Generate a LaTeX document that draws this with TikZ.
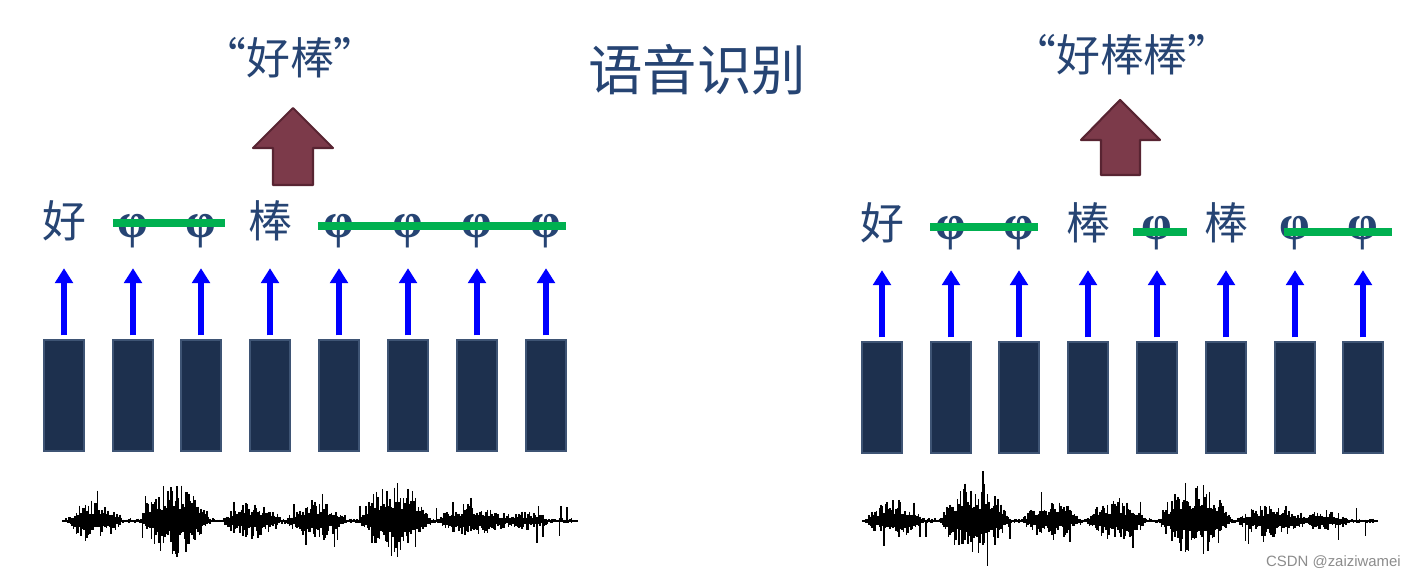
\documentclass[tikz,border=0pt]{standalone}
\usepackage{fontspec}
\setsansfont{Liberation Sans}
\newfontfamily\cjk{Noto Sans CJK SC}
\newfontfamily\blankfont{Liberation Serif}
\usetikzlibrary{positioning,arrows.meta,calc}
\definecolor{textnavy}{RGB}{38,68,115}
\definecolor{barnavy}{RGB}{29,48,78}
\definecolor{barline}{RGB}{62,84,116}
\definecolor{blankgreen}{RGB}{0,176,80}
\definecolor{outmaroon}{RGB}{124,58,74}
\definecolor{outmaroonline}{RGB}{88,36,50}
\definecolor{frameblue}{RGB}{0,0,255}
\newcommand{\blk}{{\blankfont\bfseries\fontsize{28}{28}\selectfont φ}}
\tikzset{
  framebar/.style={draw=barline,fill=barnavy,line width=0.7pt,minimum width=0.8cm,minimum height=2.22cm,inner sep=0pt},
  tokenlab/.style={anchor=base,inner sep=0pt,text depth=0pt,font=\fontsize{25}{25}\selectfont\cjk,text=textnavy},
  upflow/.style={-{Triangle[width=10pt,length=8.5pt]},line width=2.9pt,draw=frameblue,shorten <=2.3pt,shorten >=17pt},
  blankline/.style={line width=5pt,draw=blankgreen},
  outarrow/.style={draw=outmaroonline,fill=outmaroon,line width=1.2pt,line join=round},
  outtext/.style={font=\fontsize{25}{25}\selectfont\cjk,text=textnavy},
  wavebase/.style={line width=1.3pt,draw=black},
  waveline/.style={line width=0.9pt,draw=black},
}
% one speech waveform, #1 = left end
\newcommand{\speechwave}[1]{%
  \draw[wavebase] (#1,521) -- ++(516,0);
  \foreach \t in {4,5.5,...,512}{
    \pgfmathsetmacro{\env}{3+20*max(0,1-((\t-33)/28)^2)+38*max(0,1-((\t-113)/36)^2)+18*max(0,1-((\t-190)/30)^2)+20*max(0,1-((\t-255)/30)^2)+38*max(0,1-((\t-333)/36)^2)+15*max(0,1-((\t-410)/35)^2)+8*max(0,1-((\t-462)/26)^2)}
    \pgfmathsetmacro{\up}{\env*(0.3+0.7*rnd^1.5)+(rnd>0.97)*12}
    \pgfmathsetmacro{\dn}{\env*(0.25+0.65*rnd^1.5)+(rnd>0.97)*14}
    \draw[waveline] (#1+\t,521-\up) -- (#1+\t,521+\dn);
  }}

\begin{document}
\begin{tikzpicture}[x=0.02cm,y=-0.02cm]
  \useasboundingbox (0,0) rectangle (1420,577);
  \pgfmathsetseed{7}
  % title
  \node[outtext,font=\fontsize{31}{31}\selectfont\cjk] (title) at (697,70) {语音识别};
  % left: frames, blanks collapsed to one output
  \foreach \i/\x/\lab in {1/64/好,2/133/\blk,3/201/\blk,4/270/棒,5/339/\blk,6/408/\blk,7/477/\blk,8/546/\blk}{
    \node[framebar] (lbar\i) at (\x,395.5) {};
    \node[tokenlab] (llab\i) at (\x,238) {\lab};
    \draw[upflow] (lbar\i.north) -- (lbar\i.north |- llab\i.south);
  }
  \draw[blankline] ($(llab2.base)+(-20,-15)$) -- ($(llab3.base)+(24,-15)$);
  \draw[blankline] ($(llab5.base)+(-21,-12)$) -- ($(llab8.base)+(20,-12)$);
  \draw[outarrow] (293,108) -- (333,148) -- (313,148) -- (313,185) -- (273,185) -- (273,148) -- (253,148) -- cycle;
  \node[outtext] (lout) at (290,58) {“好棒”};
  \speechwave{62}
  % right: a blank between the two repeats
  \foreach \i/\x/\lab in {1/882/好,2/951/\blk,3/1019/\blk,4/1088/棒,5/1157/\blk,6/1226/棒,7/1295/\blk,8/1363/\blk}{
    \node[framebar] (rbar\i) at (\x,397.5) {};
    \node[tokenlab] (rlab\i) at (\x,240) {\lab};
    \draw[upflow] (rbar\i.north) -- (rbar\i.north |- rlab\i.south);
  }
  \draw[blankline] ($(rlab2.base)+(-21,-13)$) -- ($(rlab3.base)+(19,-13)$);
  \draw[blankline] ($(rlab5.base)+(-24,-8)$) -- ($(rlab5.base)+(30,-8)$);
  \draw[blankline] ($(rlab7.base)+(-11,-8)$) -- ($(rlab8.base)+(29,-8)$);
  \draw[outarrow] (1120,100) -- (1160,140) -- (1140,140) -- (1140,175) -- (1101,175) -- (1101,140) -- (1081,140) -- cycle;
  \node[outtext] (rout) at (1122,55) {“好棒棒”};
  \speechwave{862}
  % watermark
  \node[font=\sffamily\fontsize{8.5}{9}\selectfont,text=black!45,anchor=east] (mark) at (1407,562) {CSDN @zaiziwamei};
\end{tikzpicture}
\end{document}
